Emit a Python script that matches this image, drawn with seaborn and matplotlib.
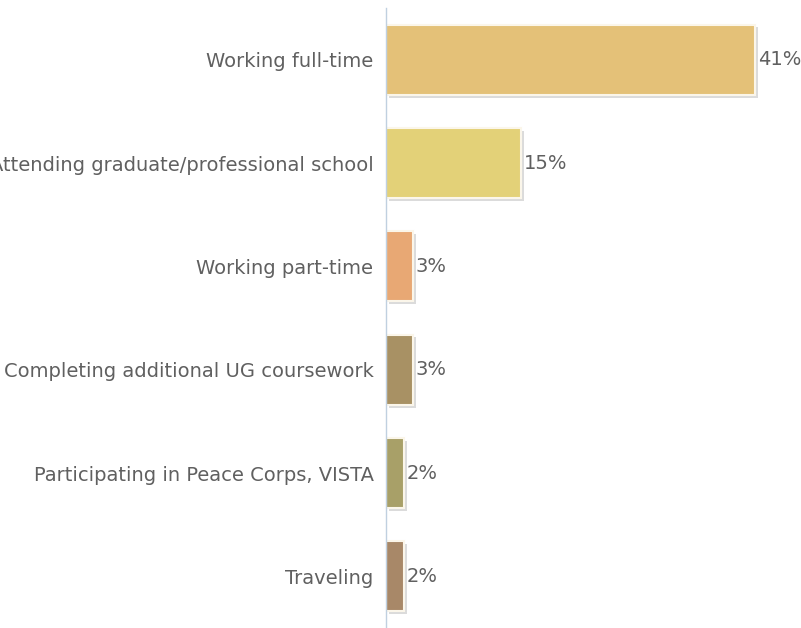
import numpy as np
import pandas as pd
import seaborn as sns
import matplotlib.pyplot as plt
import matplotlib.patheffects as pe

categories = ["Working full-time", "Attending graduate/professional school",
              "Working part-time", "Completing additional UG coursework",
              "Participating in Peace Corps, VISTA", "Traveling"]
values = [41, 15, 3, 3, 2, 2]
colors = ["#E4C178", "#E3D178", "#E8A874", "#A89164", "#A8A068", "#A88868"]

df = pd.DataFrame({"category": categories, "pct": values})

sns.set_style("white")
plt.rcParams['font.family'] = ['DejaVu Sans']

fig = plt.figure(figsize=(8.01, 6.28), dpi=100)
ax = fig.add_axes([386 / 801, 0.0, 405 / 801, 1 - 8 / 628])

sns.barplot(data=df, y="category", x="pct", hue="category", palette=colors,
            saturation=1, legend=False, width=0.68, ax=ax,
            edgecolor="#FBF6EA", linewidth=1.5)

# soft drop shadow like the original
for p in ax.patches:
    p.set_path_effects([pe.SimplePatchShadow(offset=(2, -2), shadow_rgbFace="#999999", alpha=0.35),
                        pe.Normal()])

for c in ax.containers:
    ax.bar_label(c, labels=[f"{int(v)}%" for v in c.datavalues], padding=2,
                 color="#606060", fontsize=14)

ax.set_xlim(0, 45)
ax.set_ylim(5.5, -0.5)
ax.set_xlabel("")
ax.set_ylabel("")
ax.set_xticks([])

# labels at centers, tick marks at category boundaries
ax.tick_params(axis="y", which="major", length=0, pad=9, labelsize=14, labelcolor="#606060")
ax.set_yticks(np.arange(0.5, len(categories) - 0.5, 1), minor=True)
ax.tick_params(axis="y", which="minor", length=7, width=1, color="#C0D0E0", direction="out")

for s in ["top", "right", "bottom"]:
    ax.spines[s].set_visible(False)
ax.spines["left"].set_color("#C0D0E0")
ax.spines["left"].set_linewidth(1)

fig.savefig("out.png", dpi=100)
